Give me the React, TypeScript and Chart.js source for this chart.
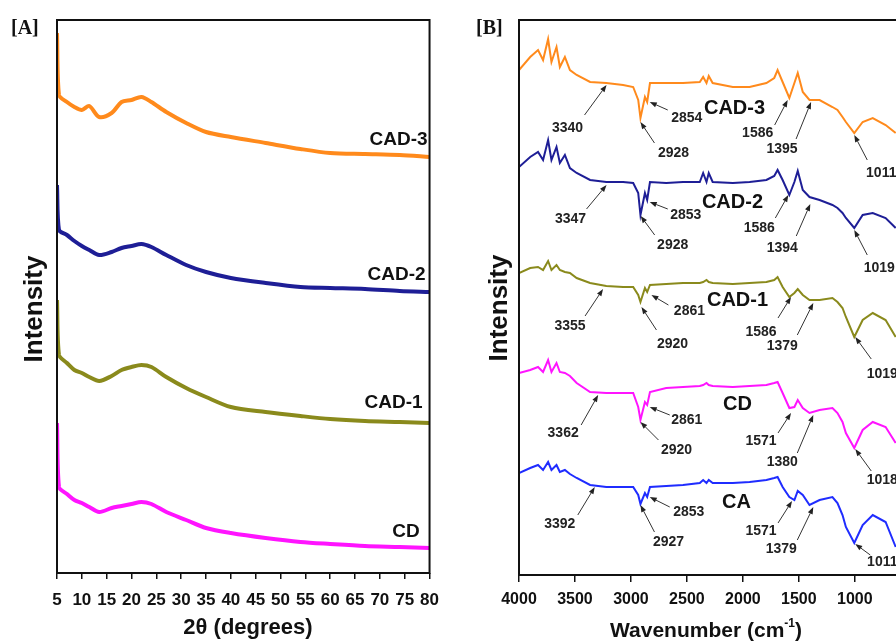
import React, { useEffect, useRef } from "react";
import { Chart, registerables } from "chart.js";

Chart.register(...registerables);

const SANS = '"Liberation Sans", Arial, sans-serif';
const SERIF = '"Liberation Serif", "Times New Roman", serif';

// ---------- Panel A : XRD ----------
const XRD_ANGLE = [5, 5.4, 7, 8.5, 10, 11.5, 13.5, 16, 18, 20, 22, 24, 27, 31, 35, 40, 47, 54, 60, 67, 74, 80];
const XRD_CAD3 = [540, 478, 471, 466, 463, 467, 456, 460, 471, 473, 476, 471, 461, 450, 441, 436, 430, 424, 420, 419, 418, 416];
const XRD_CAD2 = [388, 343, 338, 332, 327, 323, 318, 321, 325, 327, 329, 326, 318, 308, 301, 295, 290, 286, 285, 284, 282, 281];
const XRD_CAD1 = [273, 218, 210, 203, 200, 196, 192, 197, 203, 206, 208, 206, 196, 185, 176, 166, 161, 157, 154, 152, 151, 150];
const XRD_CD = [150, 86, 79, 73, 70, 66, 61, 65, 67, 69, 71, 69, 61, 53, 45, 40, 35, 31, 29, 27, 26, 25];
const XRD_TICKS = [5, 10, 15, 20, 25, 30, 35, 40, 45, 50, 55, 60, 65, 70, 75, 80];
const XRD_NAMES = ["CAD-3", "CAD-2", "CAD-1", "CD"];

// ---------- Panel B : FTIR ----------
const FTIR_WAVENUMBER = [
  4000, 3900, 3830, 3785, 3740, 3710, 3665, 3635, 3590, 3545,
  3485, 3365, 3220, 3070, 2980, 2935, 2915, 2875, 2855, 2830,
  2685, 2535, 2385, 2355, 2325, 2305, 2270, 2090, 1940, 1790,
  1720, 1690, 1645, 1585, 1540, 1510, 1465, 1405, 1315, 1200,
  1155, 1110, 1080, 1005, 930, 840, 725, 635,
];
const FTIR_CAD3 = [
  505, 518, 525, 515, 536, 513, 528, 508, 518, 505,
  500, 493, 492, 490, 488, 475, 457, 478, 473, 492,
  492, 492, 493, 498, 492, 499, 492, 488, 488, 492,
  497, 505, 493, 477, 492, 502, 483, 475, 475, 468,
  465, 458, 453, 442, 453, 457, 450, 442,
];
const FTIR_CAD2 = [
  408, 418, 423, 415, 435, 415, 428, 412, 420, 407,
  402, 395, 393, 393, 392, 382, 360, 382, 375, 393,
  392, 393, 393, 402, 393, 402, 393, 392, 393, 395,
  399, 405, 395, 380, 393, 404, 385, 378, 375, 370,
  367, 362, 357, 347, 360, 362, 357, 347,
];
const FTIR_CAD1 = [
  302, 307, 308, 305, 314, 305, 310, 305, 303, 302,
  297, 292, 289, 288, 288, 280, 273, 287, 283, 290,
  291, 292, 292, 293, 295, 293, 292, 291, 292, 293,
  295, 298, 288, 278, 282, 286, 280, 275, 275, 277,
  273, 267, 258, 238, 255, 262, 255, 238,
];
const FTIR_CD = [
  202, 205, 208, 203, 215, 203, 212, 203, 202, 199,
  192, 183, 182, 182, 182, 168, 155, 173, 170, 183,
  187, 188, 189, 190, 192, 190, 189, 188, 189, 190,
  192, 193, 182, 167, 168, 175, 167, 162, 165, 167,
  162, 153, 142, 127, 145, 153, 148, 132,
];
const FTIR_CA = [
  102, 107, 110, 105, 113, 105, 110, 103, 105, 101,
  97, 90, 88, 88, 88, 80, 71, 82, 78, 88,
  89, 90, 92, 95, 92, 95, 92, 92, 93, 95,
  97, 98, 88, 78, 75, 84, 80, 70, 75, 78,
  72, 60, 48, 32, 50, 60, 53, 28,
];
const FTIR_TICKS = [4000, 3500, 3000, 2500, 2000, 1500, 1000, 500];
const FTIR_NAMES = ["CAD-3", "CAD-2", "CAD-1", "CD", "CA"];

// peak labels: text, arrow tip (wavenumber, intensity)
const PEAK_TEXT = [
  "3340", "2928", "2854", "1586", "1395", "1011",
  "3347", "2928", "2853", "1586", "1394", "1019",
  "3355", "2920", "2861", "1586", "1379", "1019",
  "3362", "2920", "2861", "1571", "1380", "1018",
  "3392", "2927", "2853", "1571", "1379", "1011",
];
const PEAK_TIP_W = [
  3218, 2915, 2832, 1600, 1391, 1005,
  3218, 2913, 2832, 1594, 1398, 1005,
  3249, 2906, 2817, 1570, 1371, 996,
  3293, 2915, 2832, 1570, 1371, 996,
  3323, 2915, 2832, 1561, 1371, 996,
];
const PEAK_TIP_V = [
  490, 453, 473, 475, 473, 440,
  390, 359, 373, 380, 371, 345,
  286, 268, 280, 278, 272, 238,
  180, 153, 168, 162, 160, 126,
  88, 70, 78, 74, 68, 31,
];

// ---------- layout / style (not data) ----------
const XRD_COLORS = ["#ff8a1c", "#1e1e96", "#8a8a1c", "#ff14ff"];
const FTIR_COLORS = ["#ff8a1c", "#1e1e96", "#8a8a1c", "#ff14ff", "#1f2cff"];
const XRD_LABEL_POS: [number, number][] = [[79.6, 433], [79.2, 298], [78.6, 170], [78, 41]];
const FTIR_LABEL_POS: [number, number][] = [[2075, 467], [2093, 373], [2048, 275], [2048, 171], [2057, 73]];
const PEAK_OFFS: [number, number, number, number][] = [
  [-22, 30, -39, 43], [14, 21, 33, 31], [18, 8, 37, 16], [-13, 25, -30, 33], [-15, 37, -29, 47], [13, 25, 27, 38],
  [-20, 24, -36, 34], [14, 19, 32, 29], [18, 7, 36, 13], [-13, 23, -29, 33], [-14, 32, -28, 44], [13, 25, 25, 38],
  [-18, 27, -33, 37], [15, 23, 31, 37], [17, 10, 38, 16], [-13, 21, -30, 35], [-16, 32, -31, 43], [16, 22, 27, 37],
  [-17, 30, -35, 38], [18, 18, 36, 28], [20, 8, 37, 13], [-13, 20, -30, 28], [-16, 38, -31, 47], [16, 22, 27, 31],
  [-17, 28, -35, 37], [14, 27, 28, 37], [20, 10, 39, 15], [-14, 22, -31, 30], [-16, 33, -32, 42], [15, 11, 27, 18],
];

function drawArrow(ctx: CanvasRenderingContext2D, x0: number, y0: number, x1: number, y1: number) {
  const ang = Math.atan2(y1 - y0, x1 - x0);
  const head = 7;
  const hw = 2.6;
  const bx = x1 - head * Math.cos(ang);
  const by = y1 - head * Math.sin(ang);
  ctx.beginPath();
  ctx.moveTo(x0, y0);
  ctx.lineTo(bx, by);
  ctx.stroke();
  ctx.beginPath();
  ctx.moveTo(x1, y1);
  ctx.lineTo(bx + hw * Math.sin(ang), by - hw * Math.cos(ang));
  ctx.lineTo(bx - hw * Math.sin(ang), by + hw * Math.cos(ang));
  ctx.closePath();
  ctx.fill();
}

const xrdPlugin = {
  id: "xrdDecor",
  afterDraw(chart: any) {
    const { ctx, chartArea: ca, scales } = chart;
    ctx.save();
    ctx.strokeStyle = "#111";
    ctx.lineWidth = 2;
    ctx.strokeRect(ca.left, ca.top, ca.right - ca.left, ca.bottom - ca.top);
    ctx.fillStyle = "#111";
    ctx.textBaseline = "middle";
    ctx.font = `bold 20px ${SERIF}`;
    ctx.textAlign = "left";
    ctx.fillText("[A]", 11, 29);
    ctx.font = `bold 22px ${SANS}`;
    ctx.textAlign = "center";
    ctx.fillText("2θ (degrees)", 248, 628);
    ctx.font = `bold 19px ${SANS}`;
    ctx.textAlign = "right";
    XRD_NAMES.forEach((n, i) => {
      const [lx, ly] = XRD_LABEL_POS[i];
      ctx.fillText(n, scales.x.getPixelForValue(lx), scales.y.getPixelForValue(ly));
    });
    ctx.translate(35, 309);
    ctx.rotate(-Math.PI / 2);
    ctx.textAlign = "center";
    ctx.font = `bold 26px ${SANS}`;
    ctx.fillText("Intensity", 0, 0);
    ctx.restore();
  },
};

const ftirPlugin = {
  id: "ftirDecor",
  afterDraw(chart: any) {
    const { ctx, chartArea: ca, scales } = chart;
    ctx.save();
    ctx.strokeStyle = "#111";
    ctx.lineWidth = 2;
    ctx.strokeRect(ca.left, ca.top, ca.right - ca.left, ca.bottom - ca.top);
    ctx.fillStyle = "#111";
    ctx.textBaseline = "middle";
    ctx.font = `bold 20px ${SERIF}`;
    ctx.textAlign = "left";
    ctx.fillText("[B]", 26, 29);
    ctx.textBaseline = "alphabetic";
    const main = "Wavenumber (cm";
    const sup = "-1";
    const close = ")";
    ctx.font = `bold 21px ${SANS}`;
    const w1 = ctx.measureText(main).width;
    const w3 = ctx.measureText(close).width;
    ctx.font = `bold 12px ${SANS}`;
    const w2 = ctx.measureText(sup).width;
    const cx = 256;
    let x = cx - (w1 + w2 + w3) / 2;
    const base = 637;
    ctx.textAlign = "left";
    ctx.font = `bold 21px ${SANS}`;
    ctx.fillText(main, x, base);
    x += w1;
    ctx.font = `bold 12px ${SANS}`;
    ctx.fillText(sup, x, base - 10);
    x += w2;
    ctx.font = `bold 21px ${SANS}`;
    ctx.fillText(close, x, base);
    ctx.textBaseline = "middle";
    ctx.textAlign = "center";
    ctx.font = `bold 20px ${SANS}`;
    FTIR_NAMES.forEach((n, i) => {
      const [lx, ly] = FTIR_LABEL_POS[i];
      ctx.fillText(n, scales.x.getPixelForValue(lx), scales.y.getPixelForValue(ly));
    });
    ctx.strokeStyle = "#333";
    ctx.fillStyle = "#222";
    ctx.lineWidth = 1;
    ctx.font = `bold 14px ${SANS}`;
    PEAK_TEXT.forEach((t, i) => {
      const tx = scales.x.getPixelForValue(PEAK_TIP_W[i]);
      const ty = scales.y.getPixelForValue(PEAK_TIP_V[i]);
      const [dx, dy, lx, ly] = PEAK_OFFS[i];
      drawArrow(ctx, tx + dx, ty + dy, tx, ty);
      ctx.fillText(t, tx + lx, ty + ly);
    });
    ctx.fillStyle = "#111";
    ctx.translate(50, 308);
    ctx.rotate(-Math.PI / 2);
    ctx.font = `bold 26px ${SANS}`;
    ctx.fillText("Intensity", 0, 0);
    ctx.restore();
  },
};

function XrdPanel() {
  const ref = useRef<HTMLCanvasElement | null>(null);
  useEffect(() => {
    if (!ref.current) return;
    const series = [XRD_CAD3, XRD_CAD2, XRD_CAD1, XRD_CD];
    const chart = new Chart(ref.current, {
      type: "line",
      data: {
        datasets: series.map((vals, i) => ({
          label: XRD_NAMES[i],
          data: XRD_ANGLE.map((a, j) => ({ x: a, y: vals[j] })),
          borderColor: XRD_COLORS[i],
          borderWidth: 4,
          pointRadius: 0,
          tension: 0.3,
          fill: false,
        })),
      },
      options: {
        responsive: false,
        animation: false,
        events: [],
        layout: { padding: { top: 20, right: 18, left: 0, bottom: 0 } },
        plugins: { legend: { display: false }, tooltip: { enabled: false } },
        scales: {
          x: {
            type: "linear",
            min: 5,
            max: 80,
            afterBuildTicks: (s: any) => {
              s.ticks = XRD_TICKS.map((v) => ({ value: v }));
            },
            afterFit: (s: any) => {
              s.height = 68;
            },
            ticks: {
              autoSkip: false,
              maxRotation: 0,
              minRotation: 0,
              padding: 11,
              color: "#111",
              font: { family: SANS, size: 17, weight: "bold" },
              callback: (v: any) => String(v),
            },
            grid: { display: true, drawOnChartArea: false, drawTicks: true, tickLength: 6, color: "#111", lineWidth: 1.5 },
            border: { display: false },
          },
          y: {
            type: "linear",
            min: 0,
            max: 553,
            ticks: { display: false },
            grid: { display: false },
            border: { display: false },
            afterFit: (s: any) => {
              s.width = 57;
            },
          },
        },
      } as any,
      plugins: [xrdPlugin],
    });
    return () => chart.destroy();
  }, []);
  return (
    <canvas
      ref={ref}
      width={450}
      height={641}
      style={{ position: "absolute", left: 0, top: 0, width: 450, height: 641 }}
    />
  );
}

function FtirPanel() {
  const ref = useRef<HTMLCanvasElement | null>(null);
  useEffect(() => {
    if (!ref.current) return;
    const series = [FTIR_CAD3, FTIR_CAD2, FTIR_CAD1, FTIR_CD, FTIR_CA];
    const chart = new Chart(ref.current, {
      type: "line",
      data: {
        datasets: series.map((vals, i) => ({
          label: FTIR_NAMES[i],
          data: FTIR_WAVENUMBER.map((w, j) => ({ x: w, y: vals[j] })),
          borderColor: FTIR_COLORS[i],
          borderWidth: 2,
          pointRadius: 0,
          tension: 0,
          fill: false,
        })),
      },
      options: {
        responsive: false,
        animation: false,
        events: [],
        layout: { padding: { top: 20, right: 18, left: 0, bottom: 0 } },
        plugins: { legend: { display: false }, tooltip: { enabled: false } },
        scales: {
          x: {
            type: "linear",
            reverse: true,
            min: 400,
            max: 4000,
            afterBuildTicks: (s: any) => {
              s.ticks = FTIR_TICKS.map((v) => ({ value: v }));
            },
            afterFit: (s: any) => {
              s.height = 66;
            },
            ticks: {
              autoSkip: false,
              maxRotation: 0,
              minRotation: 0,
              padding: 8,
              color: "#111",
              font: { family: SANS, size: 16, weight: "bold" },
              callback: (v: any) => String(v),
            },
            grid: { display: true, drawOnChartArea: false, drawTicks: true, tickLength: 7, color: "#111", lineWidth: 1.5 },
            border: { display: false },
          },
          y: {
            type: "linear",
            min: 0,
            max: 555,
            ticks: { display: false },
            grid: { display: false },
            border: { display: false },
            afterFit: (s: any) => {
              s.width = 69;
            },
          },
        },
      } as any,
      plugins: [ftirPlugin],
    });
    return () => chart.destroy();
  }, []);
  return (
    <canvas
      ref={ref}
      width={490}
      height={641}
      style={{ position: "absolute", left: 450, top: 0, width: 490, height: 641 }}
    />
  );
}

export default function App() {
  return (
    <div
      style={{
        position: "fixed",
        left: 0,
        top: 0,
        width: 896,
        height: 641,
        overflow: "hidden",
        background: "#ffffff",
      }}
    >
      <XrdPanel />
      <FtirPanel />
    </div>
  );
}
